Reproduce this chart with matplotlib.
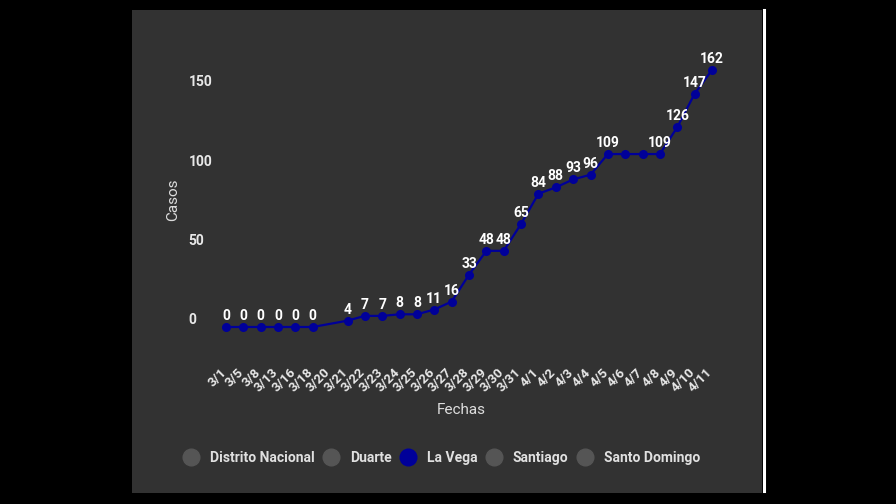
import numpy as np
import matplotlib
matplotlib.use("Agg")
import matplotlib.pyplot as plt
from matplotlib.lines import Line2D
from matplotlib.patches import Rectangle
from matplotlib.transforms import ScaledTranslation

fechas = ["3/1", "3/5", "3/8", "3/13", "3/16", "3/18", "3/20", "3/21", "3/22", "3/23",
          "3/24", "3/25", "3/26", "3/27", "3/28", "3/29", "3/30", "3/31", "4/1", "4/2",
          "4/3", "4/4", "4/5", "4/6", "4/7", "4/8", "4/9", "4/10", "4/11"]
la_vega = [0, 0, 0, 0, 0, 0, None, 4, 7, 7,
           8, 8, 11, 16, 33, 48, 48, 65, 84, 88,
           93, 96, 109, 109, 109, 109, 126, 147, 162]
hidden_labels = ["4/6", "4/7"]
series_names = ["Distrito Nacional", "Duarte", "La Vega", "Santiago", "Santo Domingo"]
y_ticks = [0, 50, 100, 150]

W, H = 896, 504
fig = plt.figure(figsize=(W / 100, H / 100), dpi=100)
fig.patch.set_facecolor("black")

# panel
fig.add_artist(Rectangle((132 / W, 1 - 493 / H), (762 - 132) / W, (493 - 10) / H,
                         transform=fig.transFigure, facecolor="#323232", edgecolor="none", zorder=0))
fig.add_artist(Line2D([764 / W, 764 / W], [1 - 491 / H, 1 - 10 / H], transform=fig.transFigure,
                      color="white", lw=2.2, zorder=1))

ax = fig.add_axes([226 / W, 1 - 327 / H, (712 - 226) / W, (327 - 89) / H])
ax.set_facecolor("none")
for s in ax.spines.values():
    s.set_visible(False)

x = np.arange(len(fechas))
y = np.array([np.nan if v is None else v for v in la_vega], dtype=float)
mask = ~np.isnan(y)
line_color = "#000099"
ax.plot(x[mask], y[mask], color=line_color, lw=1.6, zorder=2, clip_on=False)
ax.plot(x[mask], y[mask], "o", color=line_color, ms=5.5, zorder=3, clip_on=False)

for xi, yi, lab in zip(x, y, fechas):
    if np.isnan(yi) or lab in hidden_labels:
        continue
    ax.annotate(f"{int(yi)}", (xi, yi), xytext=(0, 11), textcoords="offset pixels",
                ha="center", va="center", color="white", fontsize=10, fontweight="bold",
                family="Roboto", zorder=4, annotation_clip=False)

ax.set_xlim(0, len(fechas) - 1)
ax.set_ylim(0, 150)
ax.set_xticks(x)
ax.set_xticklabels(fechas, rotation=45, ha="right", va="top", fontsize=9.5,
                   color="#e8e8e8", family="Roboto", fontweight="bold")
ax.tick_params(axis="x", length=0, pad=28)
off_x = ScaledTranslation(3 / 100, 0, fig.dpi_scale_trans)
for lab in ax.get_xticklabels():
    lab.set_transform(lab.get_transform() + off_x)
ax.set_yticks(y_ticks)
ax.set_yticklabels([str(t) for t in y_ticks], ha="left", fontsize=10, color="#e8e8e8",
                   family="Roboto", fontweight="bold")
ax.tick_params(axis="y", length=0, pad=27)
off = ScaledTranslation(0, 8 / 100, fig.dpi_scale_trans)
for lab in ax.get_yticklabels():
    lab.set_transform(lab.get_transform() + off)

fig.text(173 / W, 1 - 200 / H, "Casos", rotation=90, ha="center", va="center",
         color="#dddddd", fontsize=11, family="Roboto")
fig.text(461 / W, 1 - 410 / H, "Fechas", ha="center", va="center",
         color="#dddddd", fontsize=11, family="Roboto")

handles = []
for name in series_names:
    c = line_color if name == "La Vega" else "#555555"
    handles.append(Line2D([], [], ls="none", marker="o", ms=12, color=c, label=name))
leg = fig.legend(handles=handles, loc="center", bbox_to_anchor=(442 / W, 1 - 458 / H),
                 ncol=5, frameon=False, handlelength=1.0, handletextpad=0.85,
                 columnspacing=0.7, prop={"family": "Roboto", "size": 10, "weight": "bold"})
for t in leg.get_texts():
    t.set_color("#e0e0e0")

fig.savefig("out.png", dpi=100, facecolor=fig.get_facecolor())
